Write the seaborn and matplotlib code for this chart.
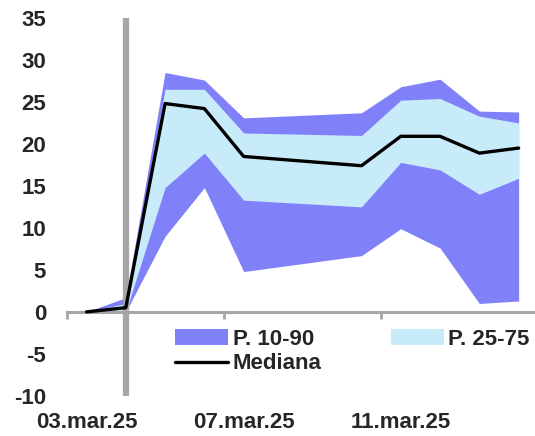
#%%
import pandas as pd
import numpy as np
import matplotlib
matplotlib.use('Agg')
import matplotlib.pyplot as plt
import matplotlib.dates as mdates
import matplotlib.transforms as mtransforms
from matplotlib.ticker import FuncFormatter
import seaborn as sns

#%%
# datos (percentiles por fecha)
fechas = ['2025-03-03 12:00', '2025-03-04 12:00', '2025-03-05 12:00', '2025-03-06 12:00',
          '2025-03-07 12:00', '2025-03-10 12:00', '2025-03-11 12:00', '2025-03-12 12:00',
          '2025-03-13 12:00', '2025-03-14 12:00']
p10 = [0.0, 0.0, 9.0, 14.8, 4.8, 6.7, 9.9, 7.6, 1.0, 1.3]
p25 = [0.0, 0.0, 14.8, 18.9, 13.3, 12.5, 17.8, 16.9, 14.0, 15.9]
mediana = [0.0, 0.5, 24.8, 24.2, 18.5, 17.4, 20.9, 20.9, 18.9, 19.5]
p75 = [0.0, 1.0, 26.5, 26.5, 21.3, 21.0, 25.2, 25.4, 23.3, 22.5]
p90 = [0.0, 1.7, 28.5, 27.6, 23.1, 23.7, 26.8, 27.7, 23.9, 23.8]

fecha_corte = '2025-03-04 12:00'
ticks_x = ['2025-03-03', '2025-03-07', '2025-03-11']
ticks_y = [-10, -5, 0, 5, 10, 15, 20, 25, 30, 35]

df = pd.DataFrame({'fecha': pd.to_datetime(fechas), 'p10': p10, 'p25': p25,
                   'mediana': mediana, 'p75': p75, 'p90': p90})

#%%
sns.set_style('white')
plt.rcParams['font.family'] = ['Liberation Sans', 'DejaVu Sans']
plt.rcParams['font.weight'] = 'bold'
plt.rcParams['axes.unicode_minus'] = False

gris = '#a6a6a6'
azul_osc = '#8080f8'
azul_cla = '#c8ebfa'
tam = 16

fig = plt.figure(figsize=(5.35, 4.36), dpi=100)
ax = fig.add_axes([0.125, 0.092, 0.875, 0.867])

ax.fill_between(df['fecha'], df['p10'], df['p90'], color=azul_osc, lw=0, label='P. 10-90')
ax.fill_between(df['fecha'], df['p25'], df['p75'], color=azul_cla, lw=0, label='P. 25-75')
ax.axvline(pd.Timestamp(fecha_corte), color=gris, lw=4.5, zorder=3)
sns.lineplot(data=df, x='fecha', y='mediana', color='black', lw=2.4, ax=ax,
             label='Mediana', zorder=4)

ax.set_ylim(-10, 35)
ax.set_xlim(pd.Timestamp('2025-03-03'), pd.Timestamp('2025-03-14 22:00'))
ax.set_yticks(ticks_y)
ax.set_xticks(pd.to_datetime(ticks_x))
ax.xaxis.set_major_formatter(FuncFormatter(
    lambda v, p: mdates.num2date(v).strftime('%d.%b.%y').lower()))
ax.set_xlabel('')
ax.set_ylabel('')

for s in ['top', 'right', 'left']:
    ax.spines[s].set_visible(False)
ax.spines['bottom'].set_position(('data', 0))
ax.spines['bottom'].set_color(gris)
ax.spines['bottom'].set_linewidth(2.2)
ax.spines['bottom'].set_zorder(2)

ax.tick_params(axis='x', length=5, width=2, color=gris, direction='out',
               labelsize=tam, pad=67, bottom=True)
ax.tick_params(axis='y', length=0, labelsize=tam, pad=15)

# etiquetas de fecha centradas a mediodia (corridas ~20 px a la derecha)
desplaza = mtransforms.ScaledTranslation(0.2, 0, fig.dpi_scale_trans)
for lab in ax.get_xticklabels():
    lab.set_fontweight('bold')
    lab.set_transform(lab.get_transform() + desplaza)
for lab in ax.get_yticklabels():
    lab.set_fontweight('bold')

# leyenda
handles, labels = ax.get_legend_handles_labels()
orden = [labels.index('P. 10-90'), labels.index('Mediana'), labels.index('P. 25-75')]
ax.legend([handles[i] for i in orden], [labels[i] for i in orden], ncol=2,
          loc='upper left', bbox_to_anchor=(175 / 535, 1 - 329 / 436),
          bbox_transform=fig.transFigure, frameon=False,
          prop={'size': tam, 'weight': 'bold'},
          handlelength=2.4, handletextpad=0.2, columnspacing=3.1,
          labelspacing=0.15, borderpad=0, borderaxespad=0)

fig.savefig('out.png', dpi=100)
